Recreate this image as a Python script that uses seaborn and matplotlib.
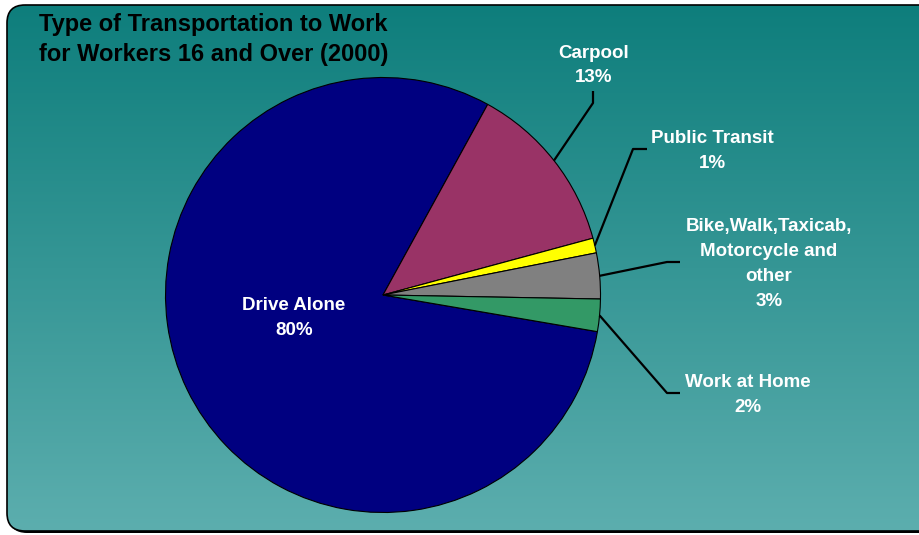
import numpy as np
import matplotlib
matplotlib.use("Agg")
import matplotlib.pyplot as plt
from matplotlib.patches import FancyBboxPatch
import seaborn as sns

# Share of workers 16+ by means of transportation (percent)
modes = ["Drive Alone", "Carpool", "Public Transit",
         "Bike,Walk,Taxicab,\nMotorcycle and\nother", "Work at Home"]
shares = [80.3, 12.8, 1.1, 3.4, 2.4]
slice_colors = ["#000080", "#993366", "#FFFF00", "#808080", "#339966"]
title_lines = ["Type of Transportation to Work", "for Workers 16 and Over (2000)"]

sns.set_theme(style="white")
plt.rcParams["font.family"] = ["Liberation Sans", "DejaVu Sans"]

W, H = 919, 535
fig = plt.figure(figsize=(W / 100, H / 100), dpi=100)

# background layer in pixel coordinates
bg = fig.add_axes([0, 0, 1, 1])
bg.set_xlim(0, W)
bg.set_ylim(H, 0)
bg.axis("off")

px0, py0, pw, ph = 7, 5, 945, 526
shadow = FancyBboxPatch((px0 + 2, py0 + 2), pw, ph,
                        boxstyle="round,pad=0,rounding_size=18",
                        fc="black", ec="none", zorder=0)
bg.add_patch(shadow)
panel = FancyBboxPatch((px0, py0), pw, ph,
                       boxstyle="round,pad=0,rounding_size=18",
                       fc="none", ec="black", lw=1.2, zorder=3)
bg.add_patch(panel)

top_c = np.array([14, 126, 124]) / 255
bot_c = np.array([92, 174, 174]) / 255
t = np.linspace(0, 1, 256)[:, None, None]
grad = top_c[None, None, :] * (1 - t) + bot_c[None, None, :] * t
img = bg.imshow(grad, extent=[px0, px0 + pw, py0 + ph, py0], aspect="auto",
                interpolation="bilinear", zorder=1)
clip = FancyBboxPatch((px0, py0), pw, ph,
                      boxstyle="round,pad=0,rounding_size=18",
                      fc="none", ec="none", transform=bg.transData)
img.set_clip_path(clip)
bg.set_xlim(0, W)
bg.set_ylim(H, 0)

# pie
cx, cy, R = 383, 295, 217.5
pax = fig.add_axes([(cx - R) / W, (H - cy - R) / H, 2 * R / W, 2 * R / H])
start = -9.7
pax.pie(shares, colors=slice_colors, startangle=start, counterclock=False,
        wedgeprops=dict(edgecolor="black", linewidth=0.8))
pax.set_xlim(-1, 1)
pax.set_ylim(-1, 1)
pax.set_aspect("equal")

# overlay layer for title, labels and leader lines
ov = fig.add_axes([0, 0, 1, 1])
ov.set_xlim(0, W)
ov.set_ylim(H, 0)
ov.axis("off")
ov.patch.set_alpha(0)

for i, line in enumerate(title_lines):
    ov.text(213.5, 31 + 30 * i, line, ha="center", va="baseline",
            fontsize=17, fontweight="bold", color="black")

# mid angle of each wedge (degrees, clockwise layout)
cum = np.concatenate([[0], np.cumsum(shares)]) / sum(shares) * 360
mids = start - (cum[:-1] + cum[1:]) / 2

labels = [f"{m}\n{s:.0f}%" for m, s in zip(modes, shares)]
# first baseline (x center, y) for each label
label_pos = [(294, 310), (594, 57.5), (712, 142.7), (769, 231), (747.5, 386.7)]
# leader elbows for the outside labels
elbows = {1: [(593, 103), (593, 91)],
          2: [(633, 149), (647, 149)],
          3: [(667, 262), (680, 262)],
          4: [(667, 393), (680, 393)]}

for i, lab in enumerate(labels):
    x, y = label_pos[i]
    for j, line in enumerate(lab.split("\n")):
        ov.text(x, y + 25 * j, line, ha="center", va="baseline",
                fontsize=13.5, fontweight="bold", color="white")

for i, pts in elbows.items():
    a = np.deg2rad(mids[i])
    sx, sy = cx + R * np.cos(a), cy - R * np.sin(a)
    xs = [sx] + [p[0] for p in pts]
    ys = [sy] + [p[1] for p in pts]
    ov.plot(xs, ys, color="black", lw=1.6, solid_capstyle="butt")

fig.savefig("out.png", dpi=100)
